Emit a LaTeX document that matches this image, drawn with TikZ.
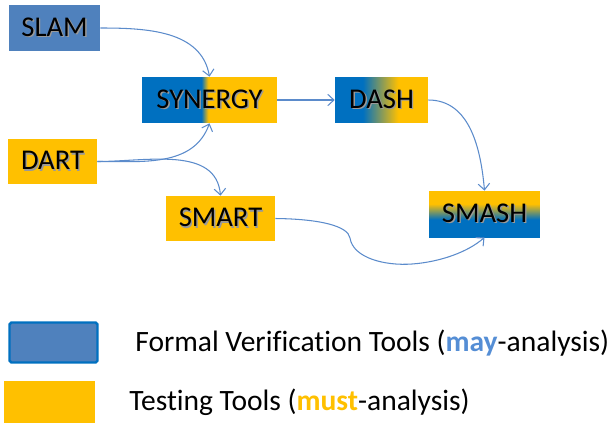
\documentclass[tikz,border=0pt]{standalone}
\usepackage{fontspec}
\setmainfont{Carlito}
\usepackage{tikz}
\usepackage{xcolor}
\usetikzlibrary{arrows.meta}

\definecolor{fvblue}{HTML}{0070C0}
\definecolor{slamblue}{HTML}{4F81BD}
\definecolor{testyellow}{HTML}{FFC000}
\definecolor{linkblue}{HTML}{5B8BCB}
\definecolor{mayblue}{HTML}{558ED5}

\pgfdeclarehorizontalshading{synergyshade}{100bp}{color(0bp)=(fvblue); color(47bp)=(fvblue); color(49.5bp)=(testyellow); color(100bp)=(testyellow)}
\pgfdeclarehorizontalshading{dashshade}{100bp}{color(0bp)=(fvblue); color(40bp)=(fvblue); color(59bp)=(testyellow); color(100bp)=(testyellow)}
\pgfdeclareverticalshading{smashshade}{100bp}{color(0bp)=(fvblue); color(44bp)=(fvblue); color(61bp)=(testyellow); color(100bp)=(testyellow)}

\newcommand{\shtext}[1]{\makebox[0pt][l]{\hspace{0.8pt}\raisebox{-0.8pt}{\color{black!40}#1}}#1}

\begin{document}
\begin{tikzpicture}[
    x=0.02cm, y=-0.02cm,
    tool/.style={rectangle, inner sep=0pt, minimum height=0.92cm, font=\fontsize{16.3}{19}\selectfont},
    key/.style={rectangle, inner sep=0pt, minimum width=1.8cm, minimum height=0.82cm},
    legend/.style={anchor=base west, inner sep=0pt, font=\fontsize{16.8}{20}\selectfont\addfontfeatures{Ligatures=NoCommon}},
    link/.style={draw=linkblue, line width=0.6pt, -{Straight Barb[length=3.5pt, width=6.5pt]}}
]
    \useasboundingbox (0,0) rectangle (608,423);

    % tools
    \node[tool, fill=slamblue, minimum width=1.82cm] (slam) at (54.5,28) {\shtext{SLAM}};
    \node[tool, shading=synergyshade, minimum width=2.7cm] (synergy) at (209.5,100) {\shtext{SYNERGY}};
    \node[tool, fill=testyellow, minimum width=1.78cm, minimum height=0.9cm] (dart) at (52.5,161.5) {\shtext{DART}};
    \node[tool, fill=testyellow, minimum width=2.18cm, minimum height=0.9cm] (smart) at (220.5,218.5) {\shtext{SMART}};
    \node[tool, shading=dashshade, minimum width=1.86cm] (dash) at (381.5,100) {\shtext{DASH}};
    \node[tool, shading=smashshade, minimum width=2.22cm] (smash) at (484.5,214) {\shtext{SMASH}};

    % connectors
    \draw[link] (slam.east) to[out=0, in=100] (synergy.north);
    \draw[link] (dart.east) to[out=0, in=-110] (synergy.south);
    \draw[link] (dart.east) to[out=0, in=95] (smart.north);
    \draw[link] (synergy.east) -- (dash.west);
    \draw[link] (dash.east) to[out=0, in=95] (smash.north);
    \draw[link] (smart.east) .. controls (320,219) and (348,226) .. (350,238)
        .. controls (353,258) and (385,266) .. (412,264)
        .. controls (440,262) and (468,252) .. (smash.south);

    % legend
    \node[key, fill=slamblue, draw=fvblue, line width=1.4pt, rounded corners=1pt, minimum width=1.76cm, minimum height=0.8cm] (fvkey) at (53.5,342.5) {};
    \node[key, fill=testyellow, minimum width=1.82cm, minimum height=0.84cm] (testkey) at (49.5,402) {};
    \node[legend] (fvlabel) at (135,351) {Formal Verification Tools (\textcolor{mayblue}{\bfseries may}-analysis)};
    \node[legend] (testlabel) at (129,410) {Testing Tools (\textcolor{testyellow}{\bfseries must}-analysis)};
\end{tikzpicture}
\end{document}
